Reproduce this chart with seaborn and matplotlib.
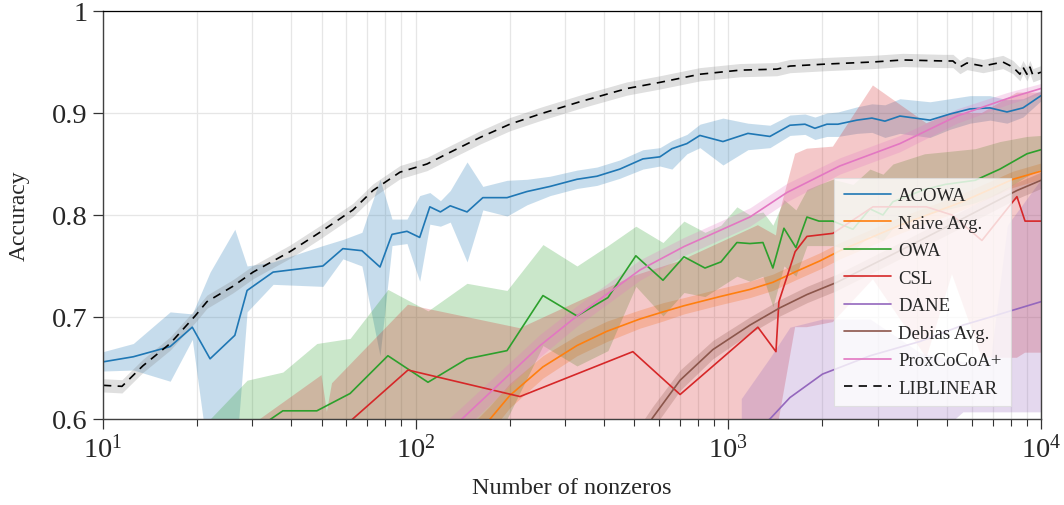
import numpy as np
import matplotlib
matplotlib.use("Agg")
import matplotlib.pyplot as plt
import seaborn as sns
from matplotlib.ticker import LogLocator, FuncFormatter, NullFormatter

# values
# ACOWA: mean accuracy and shaded band
acowa_nnz = [10, 12.5, 16.4, 19.3, 22.0, 26.4, 28.9, 35.0, 50.5, 58.5,
             67.3, 76.9, 84.0, 93.8, 103, 111, 120, 129, 146, 164,
             196, 227, 269, 328, 380, 450, 533, 604, 660, 737,
             811, 961, 1155, 1358, 1574, 1758, 1892, 2066, 2241, 2578,
             2879, 3168, 3538, 4414, 5113, 5925, 6866, 7781, 8755, 10000]
acowa_acc = [.656, .661, .671, .690, .659, .682, .726, .744, .750, .767,
             .765, .749, .781, .784, .778, .808, .803, .809, .803, .817,
             .817, .823, .828, .835, .838, .845, .855, .857, .865, .870,
             .878, .872, .880, .877, .888, .889, .885, .889, .889, .893,
             .895, .892, .897, .893, .899, .904, .905, .901, .905, .917]
acowa_lo = [.647, .648, .637, .678, .55, .55, .705, .732, .730, .757,
            .750, .662, .770, .772, .735, .791, .789, .793, .754, .805,
            .799, .810, .819, .826, .829, .836, .845, .848, .845, .860,
            .866, .849, .864, .866, .878, .879, .874, .877, .877, .880,
            .881, .876, .880, .876, .884, .890, .893, .890, .896, .912]
acowa_hi = [.666, .674, .705, .703, .744, .786, .750, .754, .770, .776,
            .783, .835, .796, .796, .819, .822, .814, .824, .852, .828,
            .834, .835, .838, .844, .847, .854, .864, .866, .873, .879,
            .889, .895, .890, .888, .898, .899, .896, .900, .901, .906,
            .909, .908, .914, .911, .914, .917, .917, .913, .914, .922]

# Naive Avg.
naive_nnz = [146, 173, 200, 255, 328, 409, 521, 618, 721, 940,
             1172, 1388, 1657, 1963, 2275, 3538, 5502, 8130, 10000]
naive_acc = [.575, .600, .623, .651, .672, .686, .698, .705, .711, .720,
             .727, .734, .745, .755, .765, .790, .812, .835, .843]
naive_hw = [.015, .013, .012, .011, .010, .010, .009, .009, .008, .008,
            .008, .008, .008, .008, .008, .008, .008, .008, .008]

# OWA
owa_nnz = [22, 28.9, 37.6, 48.3, 61.7, 81.5, 109.5, 145.9, 195.9, 255.3,
           328, 412, 506, 618, 721, 842, 947, 1065, 1172, 1290,
           1388, 1506, 1645, 1784, 1949, 2160, 2503, 2837, 3122, 3360,
           4240, 4940, 6160, 7390, 9015, 10000]
owa_acc = [.56, .584, .608, .608, .625, .662, .636, .659, .667, .721,
           .701, .719, .760, .736, .759, .748, .754, .773, .772, .773,
           .748, .787, .768, .798, .794, .794, .786, .806, .800, .813,
           .825, .830, .834, .845, .860, .864]
owa_lo = [.50, .52, .55, .55, .56, .58, .57, .58, .60, .672,
          .652, .667, .730, .701, .724, .720, .730, .740, .735, .740,
          .710, .750, .740, .770, .770, .770, .765, .780, .775, .787,
          .800, .805, .812, .822, .838, .845]
owa_hi = [.60, .638, .646, .674, .679, .727, .706, .733, .726, .771,
          .750, .770, .789, .773, .794, .783, .790, .808, .800, .803,
          .790, .815, .805, .825, .830, .835, .830, .845, .840, .850,
          .860, .862, .865, .872, .877, .878]

# CSL
csl_nnz = [31.8, 50, 52, 54, 94.5, 215.6, 495, 701, 1243, 1420,
           1451, 1635, 1784, 2160, 2900, 4300, 5190, 6471, 8375, 8890, 10000]
csl_acc = [.52, .57, .578, .582, .648, .622, .666, .624, .690, .666,
           .715, .764, .779, .782, .808, .808, .800, .775, .818, .794, .794]
csl_lo = [.40, .45, .45, .45, .45, .45, .47, .47, .55, .55,
          .60, .69, .69, .695, .737, .66, .742, .66, .66, .665, .665]
csl_hi = [.60, .643, .607, .635, .712, .689, .74, .755, .79, .78,
          .80, .86, .865, .867, .927, .89, .90, .90, .92, .92, .92]

# DANE
dane_nnz = [1100, 1358, 1574, 2000, 2840, 4100, 5626, 6900, 7800, 10000]
dane_acc = [.58, .600, .621, .644, .662, .676, .692, .700, .705, .715]
dane_lo = [.45, .47, .50, .52, .55, .57, .607, .607, .607, .607]
dane_hi = [.62, .66, .69, .698, .698, .665, .656, .66, .79, .835]

# Debias Avg.
debias_nnz = [530, 572, 701, 892, 1172, 1462, 1784, 2225, 3538, 5502, 8375, 10000]
debias_acc = [.585, .601, .638, .668, .692, .709, .722, .734, .765, .795, .824, .834]
debias_hw = [.012, .011, .010, .009, .008, .008, .008, .008, .008, .008, .008, .008]

# ProxCoCoA+
prox_nnz = [120, 140.6, 250, 328, 521, 721, 1172, 1539, 2270, 3538, 5383, 7781, 10000]
prox_acc = [.580, .600, .672, .701, .746, .769, .798, .822, .848, .870, .897, .914, .924]
prox_hw = [.013, .012, .011, .010, .010, .009, .009, .009, .008, .008, .007, .006, .005]

# LIBLINEAR
lib_nnz = [10, 11.5, 13.4, 16.4, 19.7, 21.5, 26.0, 30.2, 39.6, 49.4,
           63.0, 73.0, 89.1, 108.7, 126, 160.6, 200, 250, 335, 474,
           604, 811, 1089, 1430, 1574, 2066, 2900, 3617, 4855, 5227,
           5502, 5795, 6520, 7550, 8130, 8560, 8755, 9015, 9215, 9420, 10000]
lib_acc = [.633, .632, .652, .674, .701, .715, .730, .744, .764, .783,
           .805, .824, .842, .850, .860, .876, .889, .899, .911, .924,
           .930, .938, .942, .943, .946, .948, .950, .952, .951, .951,
           .945, .949, .946, .950, .945, .938, .945, .938, .945, .937, .940]
lib_hw = 0.0065


def band(acc, hw):
    acc = np.asarray(acc)
    return acc - np.asarray(hw), acc + np.asarray(hw)


def main():
    sns.set_theme(style="ticks")
    plt.rcParams["font.family"] = ["Liberation Serif", "DejaVu Serif"]
    plt.rcParams["mathtext.fontset"] = "custom"
    plt.rcParams["mathtext.rm"] = "Liberation Serif"
    plt.rcParams["mathtext.it"] = "Liberation Serif:italic"
    plt.rcParams["lines.dashed_pattern"] = [5.0, 3.8]

    pal = sns.color_palette("tab10")
    series = [
        ("ACOWA", acowa_nnz, acowa_acc, acowa_lo, acowa_hi, pal[0], "-", pal[0]),
        ("Naive Avg.", naive_nnz, naive_acc, *band(naive_acc, naive_hw), pal[1], "-", pal[1]),
        ("OWA", owa_nnz, owa_acc, owa_lo, owa_hi, pal[2], "-", pal[2]),
        ("CSL", csl_nnz, csl_acc, csl_lo, csl_hi, pal[3], "-", pal[3]),
        ("DANE", dane_nnz, dane_acc, dane_lo, dane_hi, pal[4], "-", pal[4]),
        ("Debias Avg.", debias_nnz, debias_acc, *band(debias_acc, debias_hw), pal[5], "-", pal[5]),
        ("ProxCoCoA+", prox_nnz, prox_acc, *band(prox_acc, prox_hw), pal[6], "-", pal[6]),
        ("LIBLINEAR", lib_nnz, lib_acc, *band(lib_acc, lib_hw), "black", "--", "gray"),
    ]

    fig = plt.figure(figsize=(10.64, 5.06), dpi=100)
    ax = fig.add_axes([0.0968, 0.170, 0.8816, 0.8063])

    for name, x, y, lo, hi, col, ls, bandcol in series:
        ax.fill_between(x, lo, hi, color=bandcol, alpha=0.25, lw=0)
        sns.lineplot(x=x, y=y, ax=ax, color=col, lw=1.2, linestyle=ls, label=name)

    ax.set_xscale("log")
    ax.set_xlim(10, 1e4)
    ax.set_ylim(0.6, 1.0)
    ax.set_yticks([0.6, 0.7, 0.8, 0.9, 1.0])
    ax.yaxis.set_major_formatter(FuncFormatter(lambda v, p: f"{v:g}"))
    ax.xaxis.set_minor_locator(LogLocator(base=10, subs=np.arange(2, 10)))
    ax.xaxis.set_minor_formatter(NullFormatter())

    ax.set_axisbelow(True)
    ax.grid(True, which="major", color="#e6e6e6", lw=0.9)
    ax.grid(True, which="minor", axis="x", color="#e6e6e6", lw=0.9)

    ax.tick_params(which="major", direction="out", length=7, width=0.9,
                   labelsize=20.5, pad=4, color="#333333")
    ax.tick_params(which="minor", direction="out", length=5, width=0.8, color="#333333")
    for side in ["left", "bottom", "right"]:
        ax.spines[side].set_color("#404040")
        ax.spines[side].set_linewidth(1.0)
    ax.spines["top"].set_color("black")
    ax.spines["top"].set_linewidth(0.9)

    ax.set_xlabel("Number of nonzeros", fontsize=17.5, va="center")
    ax.set_ylabel("Accuracy", fontsize=17, va="center")
    ax.xaxis.set_label_coords(0.5, -0.167)
    ax.yaxis.set_label_coords(-0.0896, 0.5)

    leg = ax.legend(loc="lower right", bbox_to_anchor=(0.968, 0.032), fontsize=13.5,
                    frameon=True, fancybox=False, framealpha=0.8, edgecolor="#dddddd",
                    handlelength=2.5, handletextpad=0.4, labelspacing=0.55,
                    borderpad=0.5, borderaxespad=0.0)
    leg.get_frame().set_linewidth(0.8)

    fig.savefig("out.png", dpi=100)


if __name__ == "__main__":
    main()
